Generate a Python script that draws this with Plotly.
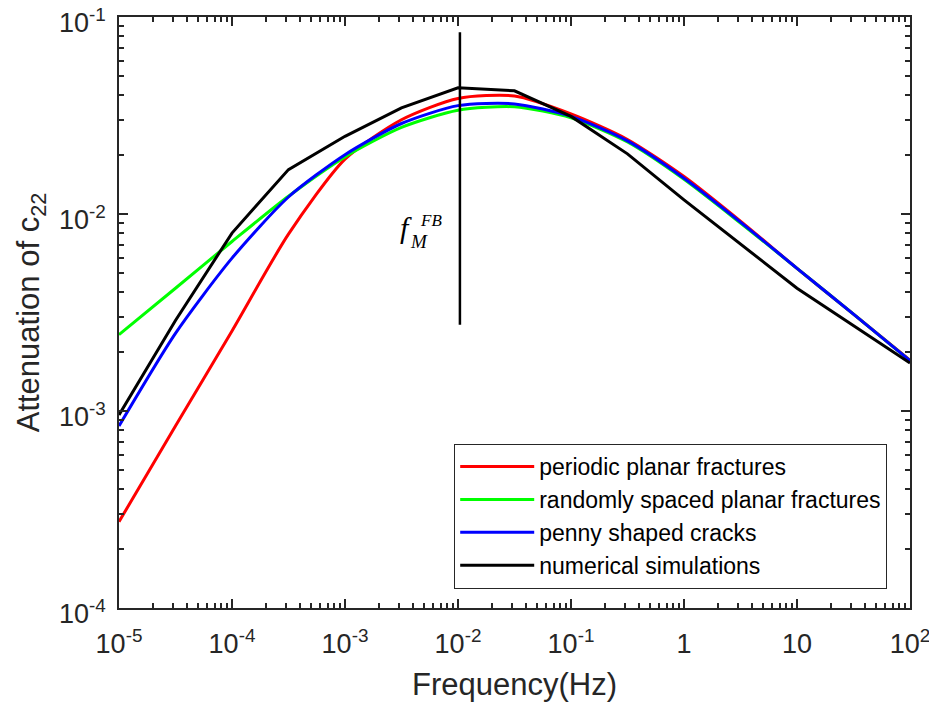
import plotly.graph_objects as go

# ---- data ----
freq = [1e-5, 3.16e-5, 1e-4, 3.16e-4, 1e-3, 3.16e-3, 1e-2, 3.16e-2,
        1e-1, 3.16e-1, 1.0, 3.16, 10.0, 31.6, 100.0]
periodic = [2.74e-4, 8.4e-4, 2.55e-3, 7.9e-3, 1.90e-2, 3.01e-2, 3.86e-2, 3.97e-2,
            3.22e-2, 2.39e-2, 1.55e-2, 9.2e-3, 5.3e-3, 3.1e-3, 1.81e-3]
random_sp = [2.44e-3, 4.2e-3, 7.25e-3, 1.23e-2, 1.95e-2, 2.75e-2, 3.36e-2, 3.50e-2,
             3.08e-2, 2.32e-2, 1.50e-2, 9.0e-3, 5.3e-3, 3.1e-3, 1.8e-3]
penny = [8.4e-4, 2.48e-3, 5.97e-3, 1.22e-2, 2.00e-2, 2.88e-2, 3.55e-2, 3.62e-2,
         3.13e-2, 2.35e-2, 1.52e-2, 9.1e-3, 5.3e-3, 3.1e-3, 1.8e-3]
freq_num = [1e-5, 3.16e-5, 1e-4, 3.16e-4, 1e-3, 3.16e-3, 1e-2, 3.16e-2,
            1e-1, 3.16e-1, 1.0, 10.0, 100.0]
numerical = [9.55e-4, 2.88e-3, 8.0e-3, 1.68e-2, 2.48e-2, 3.46e-2, 4.37e-2, 4.22e-2,
             3.13e-2, 2.02e-2, 1.18e-2, 4.2e-3, 1.75e-3]
f_mark = 1.04e-2
f_mark_y = [2.74e-3, 8.37e-2]

x_tickvals = [1e-5, 1e-4, 1e-3, 1e-2, 1e-1, 1, 10, 100]
x_ticktext = ["10<sup>-5</sup>", "10<sup>-4</sup>", "10<sup>-3</sup>", "10<sup>-2</sup>",
              "10<sup>-1</sup>", "1", "10", "10<sup>2</sup>"]
y_tickvals = [1e-4, 1e-3, 1e-2, 1e-1]
y_ticktext = ["10<sup>-4</sup>", "10<sup>-3</sup>", "10<sup>-2</sup>", "10<sup>-1</sup>"]

names = ["periodic planar fractures", "randomly spaced planar fractures",
         "penny shaped cracks", "numerical simulations"]
colors = ["#FF0000", "#00FF00", "#0000FF", "#000000"]

fig = go.Figure()
for xs, ys, nm, col, shp in [(freq, periodic, names[0], colors[0], "spline"),
                             (freq, random_sp, names[1], colors[1], "spline"),
                             (freq, penny, names[2], colors[2], "spline"),
                             (freq_num, numerical, names[3], colors[3], "linear")]:
    fig.add_trace(go.Scatter(x=xs, y=ys, mode="lines", name=nm,
                             line=dict(color=col, width=3, shape=shp, smoothing=0.7)))

fig.add_trace(go.Scatter(x=[f_mark, f_mark], y=f_mark_y, mode="lines",
                         line=dict(color="black", width=2.5), showlegend=False,
                         hoverinfo="skip"))

def minor_vals(lo, hi):
    v = []
    for e in range(lo, hi):
        for m in range(2, 10):
            v.append(m * 10.0 ** e)
    return v

axis_col = "#262626"
sans = "Liberation Sans, Arial"
common = dict(type="log", showgrid=False, zeroline=False, showline=True,
              linecolor=axis_col, linewidth=1.5, mirror="allticks", automargin=False,
              ticks="inside", ticklen=9, tickwidth=1.5, tickcolor=axis_col,
              ticklabeloverflow="allow",
              tickfont=dict(family=sans, size=27, color=axis_col))

fig.update_xaxes(**common, range=[-5, 2], tickmode="array", tickvals=x_tickvals,
                 ticktext=x_ticktext, ticklabelstandoff=11,
                 minor=dict(tickmode="array", tickvals=minor_vals(-5, 2), ticks="inside",
                            ticklen=5, tickwidth=1.5, tickcolor=axis_col, showgrid=False),
                 title=dict(text="Frequency(Hz)", standoff=15,
                            font=dict(family=sans, size=31, color=axis_col)))
fig.update_yaxes(**common, range=[-4, -1], tickmode="array", tickvals=y_tickvals,
                 ticktext=y_ticktext, ticklabelstandoff=6, ticklabelshift=6,
                 minor=dict(tickmode="array", tickvals=minor_vals(-4, -1), ticks="inside",
                            ticklen=5, tickwidth=1.5, tickcolor=axis_col, showgrid=False),
                 title=dict(text="Attenuation of c<sub>22</sub>", standoff=10,
                            font=dict(family=sans, size=31, color=axis_col)))

serif = "Liberation Serif, Times New Roman"
fig.add_annotation(xref="paper", yref="paper", x=(406 - 119) / 791, y=1 - (228 - 17.5) / 590.5,
                   text="<i>f</i>", showarrow=False, xanchor="center", yanchor="middle",
                   font=dict(family=serif, size=30, color="black"))
fig.add_annotation(xref="paper", yref="paper", x=(419 - 119) / 791, y=1 - (242 - 17.5) / 590.5,
                   text="<i>M</i>", showarrow=False, xanchor="center", yanchor="middle",
                   font=dict(family=serif, size=19, color="black"))
fig.add_annotation(xref="paper", yref="paper", x=(431 - 119) / 791, y=1 - (221 - 17.5) / 590.5,
                   text="<i>FB</i>", showarrow=False, xanchor="center", yanchor="middle",
                   font=dict(family=serif, size=17, color="black"))

fig.update_layout(
    width=929, height=704,
    margin=dict(l=119, r=19, t=17, b=96, autoexpand=False),
    paper_bgcolor="white", plot_bgcolor="white",
    showlegend=True,
    legend=dict(x=(454 - 119) / 791, y=1 - (444 - 17.5) / 590.5, xanchor="left", yanchor="top",
                bgcolor="white", bordercolor=axis_col, borderwidth=1.2,
                font=dict(family=sans, size=23, color="black"),
                itemwidth=74, tracegroupgap=0),
)

fig.write_html("out.html")
